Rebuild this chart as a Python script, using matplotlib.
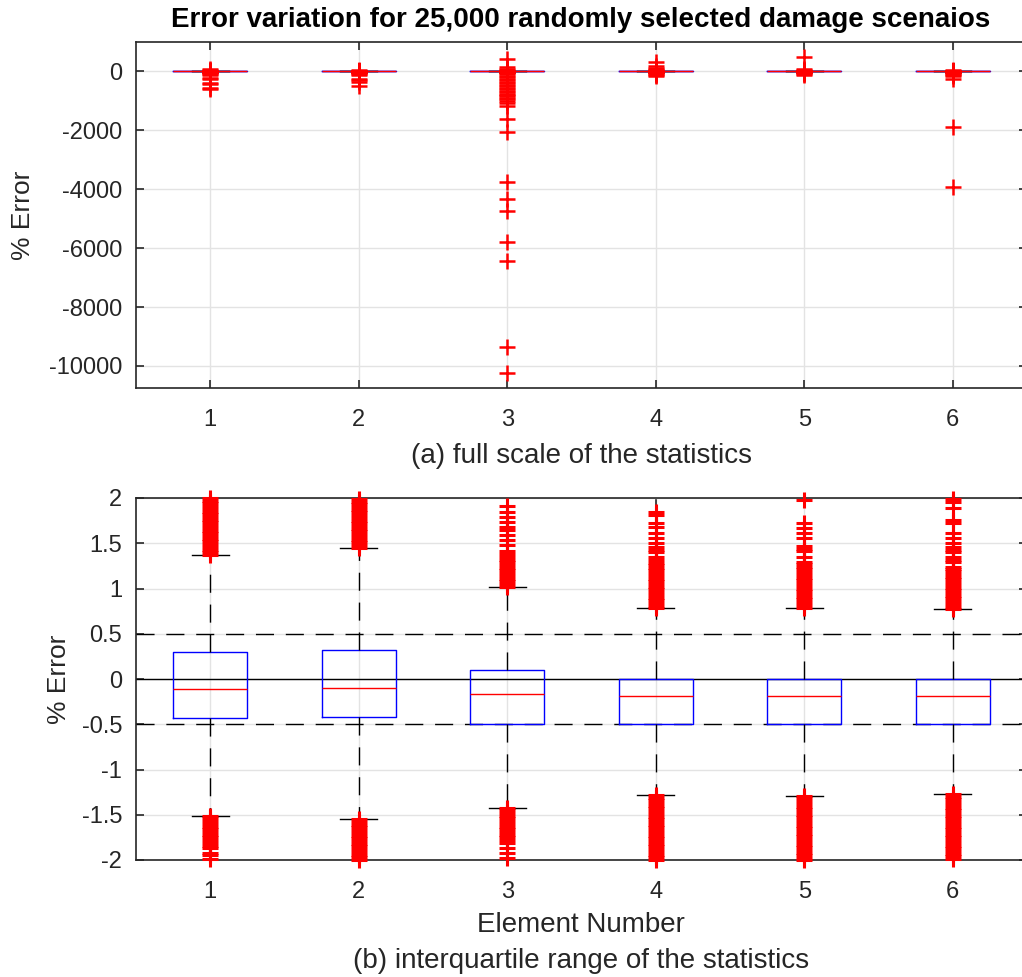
import matplotlib
matplotlib.use('Agg')
import matplotlib.pyplot as plt
import numpy as np

plt.rcParams['font.family'] = ['Liberation Sans', 'DejaVu Sans']
plt.rcParams['axes.unicode_minus'] = False

elements = [1, 2, 3, 4, 5, 6]

# box statistics
q1 = [-0.43, -0.42, -0.50, -0.50, -0.50, -0.50]
med = [-0.11, -0.10, -0.17, -0.19, -0.19, -0.19]
q3 = [0.30, 0.32, 0.10, 0.00, 0.00, 0.00]
whis_lo = [-1.51, -1.55, -1.42, -1.28, -1.29, -1.27]
whis_hi = [1.37, 1.45, 1.02, 0.78, 0.79, 0.77]

# upper outliers inside the +/-2 window
out_hi = [
    [1.37, 1.40, 1.43, 1.46, 1.49, 1.52, 1.55, 1.58, 1.61, 1.64, 1.67, 1.70, 1.73,
     1.76, 1.79, 1.82, 1.85, 1.88, 1.91, 1.94, 1.97, 2.00],
    [1.45, 1.48, 1.51, 1.54, 1.57, 1.60, 1.63, 1.66, 1.69, 1.72, 1.75, 1.78, 1.81,
     1.84, 1.87, 1.90, 1.93, 1.96, 1.99],
    [1.02, 1.05, 1.08, 1.11, 1.14, 1.17, 1.20, 1.23, 1.26, 1.29, 1.32, 1.35, 1.38,
     1.41, 1.48, 1.54, 1.59, 1.65, 1.68, 1.74, 1.79, 1.85, 1.91],
    [0.78, 0.81, 0.84, 0.87, 0.90, 0.93, 0.96, 0.99, 1.02, 1.05, 1.08, 1.11, 1.14,
     1.17, 1.20, 1.23, 1.26, 1.28, 1.31, 1.35, 1.40, 1.43, 1.46, 1.50, 1.56, 1.61,
     1.68, 1.72, 1.81, 1.85],
    [0.79, 0.82, 0.85, 0.88, 0.91, 0.94, 0.97, 1.00, 1.03, 1.06, 1.09, 1.12, 1.15,
     1.18, 1.21, 1.24, 1.27, 1.29, 1.35, 1.41, 1.44, 1.47, 1.56, 1.61, 1.67, 1.72,
     1.98],
    [0.77, 0.80, 0.83, 0.86, 0.89, 0.92, 0.95, 0.98, 1.01, 1.04, 1.07, 1.10, 1.13,
     1.16, 1.19, 1.22, 1.24, 1.29, 1.32, 1.35, 1.40, 1.43, 1.46, 1.50, 1.56, 1.61,
     1.72, 1.76, 1.89, 1.96, 1.99],
]

# lower outliers inside the +/-2 window
out_lo = [
    [-1.51, -1.54, -1.57, -1.60, -1.63, -1.66, -1.69, -1.72, -1.75, -1.78, -1.81,
     -1.84, -1.87, -1.92, -1.95, -1.99],
    [-1.55, -1.58, -1.61, -1.64, -1.67, -1.70, -1.73, -1.76, -1.79, -1.82, -1.85,
     -1.88, -1.91, -1.94, -1.97, -2.00],
    [-1.42, -1.45, -1.48, -1.51, -1.54, -1.57, -1.60, -1.63, -1.66, -1.69, -1.72,
     -1.75, -1.78, -1.81, -1.87, -1.92, -1.98],
    [-1.28, -1.31, -1.34, -1.37, -1.40, -1.43, -1.46, -1.49, -1.52, -1.55, -1.58,
     -1.61, -1.64, -1.67, -1.70, -1.73, -1.76, -1.79, -1.82, -1.85, -1.88, -1.91,
     -1.94, -1.97, -2.00],
    [-1.29, -1.32, -1.35, -1.38, -1.41, -1.44, -1.47, -1.50, -1.53, -1.56, -1.59,
     -1.62, -1.65, -1.68, -1.71, -1.74, -1.77, -1.80, -1.83, -1.86, -1.89, -1.92,
     -1.95, -1.98, -2.00],
    [-1.27, -1.30, -1.33, -1.36, -1.39, -1.42, -1.45, -1.48, -1.51, -1.54, -1.57,
     -1.60, -1.63, -1.66, -1.69, -1.72, -1.75, -1.78, -1.81, -1.84, -1.87, -1.90,
     -1.93, -1.96, -1.99],
]

# outliers beyond +/-2, only visible on the full scale panel
out_far = [
    [100, 60, 30, 10, 4, -4, -10, -25, -50, -80, -110, -220, -260, -390, -430,
     -560, -600],
    [50, 25, 10, 4, -4, -10, -25, -50, -80, -110, -240, -280, -370, -500],
    [430, 150, 100, 60, 30, 10, 4, -4, -10, -30, -60, -100, -150, -200, -250,
     -300, -350, -400, -450, -500, -550, -600, -650, -700, -750, -800, -850,
     -900, -950, -1000, -1060, -1180, -1610, -2070, -3740, -4320, -4730, -5780,
     -6430, -9350, -10240],
    [320, 200, 125, 80, 40, 10, 4, -4, -10, -40, -80, -120, -170],
    [500, 90, 50, 20, 5, -5, -20, -50, -80, -110],
    [45, 20, 5, -5, -20, -50, -80, -120, -170, -250, -1900, -3910],
]

top_yticks = [-10000, -8000, -6000, -4000, -2000, 0]
bot_yticks = [-2, -1.5, -1, -0.5, 0, 0.5, 1, 1.5, 2]
bot_ylabels = ['-2', '-1.5', '-1', '-0.5', '0', '0.5', '1', '1.5', '2']

W, H = 1022, 977
fig = plt.figure(figsize=(W / 100, H / 100), dpi=100)


def axes_px(left, top, right, bottom):
    return fig.add_axes([left / W, 1 - bottom / H, (right - left) / W, (bottom - top) / H])


ax1 = axes_px(136, 42, 1027, 388)
ax2 = axes_px(136, 498, 1027, 860)

stats = [dict(med=med[i], q1=q1[i], q3=q3[i], whislo=whis_lo[i], whishi=whis_hi[i],
              fliers=[]) for i in range(len(elements))]

dash = (0, (13, 8.5))
txt = '#262626'
for ax in (ax1, ax2):
    ax.bxp(stats, positions=elements, widths=0.5, capwidths=0.25, showfliers=False,
           manage_ticks=False,
           boxprops=dict(color='blue', lw=1),
           medianprops=dict(color='red', lw=1),
           whiskerprops=dict(color='black', lw=1, linestyle=dash),
           capprops=dict(color='black', lw=1))
    ax.grid(True, color='#e3e3e3', lw=1)
    ax.set_axisbelow(True)
    ax.set_xlim(0.5, 6.5)
    ax.set_xticks(elements)
    ax.tick_params(direction='in', top=True, right=True, length=6, width=1.2,
                   colors=txt, labelsize=17)
    ax.tick_params(axis='x', pad=15)
    ax.tick_params(axis='y', pad=10)
    for s in ax.spines.values():
        s.set_color(txt)
        s.set_linewidth(1.2)
    ax.set_ylabel('% Error', fontsize=19, color=txt)

for i, x in enumerate(elements):
    vals = np.array(out_hi[i] + out_lo[i] + out_far[i], dtype=float)
    ax1.plot(np.full(vals.size, x), vals, '+', color='red', ms=11.5, mew=1.8, zorder=3)
    near = np.array(out_hi[i] + out_lo[i])
    near = near[np.abs(near) <= 2.0]
    ax2.plot(np.full(near.size, x), near, '+', color='red', ms=11.5, mew=2.2,
             zorder=3, clip_on=False)

ax1.set_ylim(-10750, 1000)
ax1.set_yticks(top_yticks)
ax1.yaxis.set_label_coords(-0.113, 0.5)

ax2.set_ylim(-2, 2)
ax2.set_yticks(bot_yticks)
ax2.set_yticklabels(bot_ylabels)
ax2.yaxis.set_label_coords(-0.073, 0.5)
ax2.axhline(0, color='black', lw=1, zorder=1.5)
ax2.axhline(0.5, color='black', lw=1, linestyle=dash, zorder=1.5)
ax2.axhline(-0.5, color='black', lw=1, linestyle=dash, zorder=1.5)

fig.text(581 / W, 1 - 20 / H, 'Error variation for 25,000 randomly selected damage scenaios',
         ha='center', va='center', fontsize=20, fontweight='bold', color='black')
fig.text(581 / W, 1 - 456 / H, '(a) full scale of the statistics',
         ha='center', va='center', fontsize=20, color=txt)
fig.text(581 / W, 1 - 925 / H, 'Element Number',
         ha='center', va='center', fontsize=20, color=txt)
fig.text(581 / W, 1 - 961 / H, '(b) interquartile range of the statistics',
         ha='center', va='center', fontsize=20, color=txt)

fig.savefig('out.png', dpi=100)
